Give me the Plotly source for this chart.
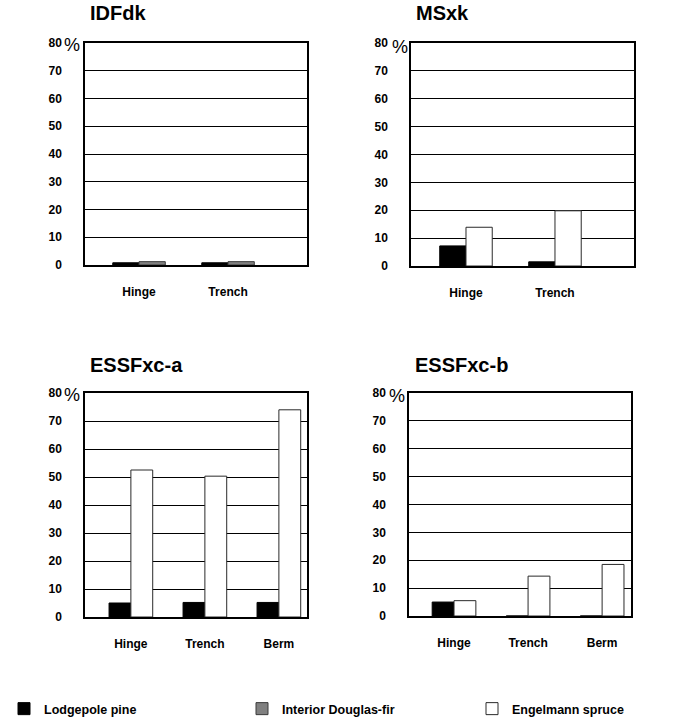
import plotly.graph_objects as go

# Proportion of stems (%) by microsite, per biogeoclimatic unit
sites_2 = ["Hinge", "Trench"]
sites_3 = ["Hinge", "Trench", "Berm"]

idfdk_lodgepole = [0.8, 0.8]
idfdk_douglas = [1.2, 1.2]

msxk_lodgepole = [7.2, 1.5]
msxk_spruce = [13.9, 19.8]

essfa_lodgepole = [5.0, 5.2, 5.2]
essfa_spruce = [52.5, 50.3, 74.0]

essfb_lodgepole = [5.0, 0.0, 0.0]
essfb_spruce = [5.5, 14.3, 18.5]

y_ticks = [0, 10, 20, 30, 40, 50, 60, 70, 80]
panel_titles = ["IDFdk", "MSxk", "ESSFxc-a", "ESSFxc-b"]

W, H = 678, 719
FONT = "Liberation Sans, Arial, sans-serif"

BLACK = dict(color="#000000", line=dict(color="#000000", width=1))
GRAY = dict(color="#808080", line=dict(color="#3a3a3a", width=1))
WHITE = dict(color="#ffffff", line=dict(color="#2a2a2a", width=1))


def px_x(v):
    return v / W


def px_y(v):
    return 1 - v / H


fig = go.Figure()

# (x-axis, y-axis, left px, right px, top px, bottom px, categories, x range)
panels = [
    ("x", "y", 85, 307, 43, 265, sites_2, [-0.607, 1.887]),
    ("x2", "y2", 411, 634, 43, 266, sites_2, [-0.618, 1.888]),
    ("x3", "y3", 85, 307, 393, 617, sites_3, [-0.62, 2.38]),
    ("x4", "y4", 409, 631, 393, 616, sites_3, [-0.608, 2.39]),
]

series = [
    [("Lodgepole pine", idfdk_lodgepole, BLACK, False, None),
     ("Interior Douglas-fir", idfdk_douglas, GRAY, True, "legend2")],
    [("Lodgepole pine", msxk_lodgepole, BLACK, False, None),
     ("Engelmann spruce", msxk_spruce, WHITE, True, "legend3")],
    [("Lodgepole pine", essfa_lodgepole, BLACK, True, "legend"),
     ("Engelmann spruce", essfa_spruce, WHITE, False, None)],
    [("Lodgepole pine", essfb_lodgepole, BLACK, False, None),
     ("Engelmann spruce", essfb_spruce, WHITE, False, None)],
]

for (xa, ya, l, r, t, b, cats, xr), traces in zip(panels, series):
    for name, vals, marker, show, leg in traces:
        kw = dict(legend=leg) if leg else {}
        fig.add_trace(go.Bar(
            x=cats, y=vals, name=name, marker=marker,
            xaxis=xa, yaxis=ya, showlegend=show, **kw,
        ))

layout = dict(
    width=W, height=H,
    margin=dict(l=0, r=0, t=0, b=0, autoexpand=False),
    paper_bgcolor="white", plot_bgcolor="white",
    barmode="group", bargap=0.41, bargroupgap=0,
    font=dict(family=FONT, color="#000000"),
)

for i, (xa, ya, l, r, t, b, cats, xr) in enumerate(panels):
    sx = "xaxis" if xa == "x" else "xaxis" + xa[1:]
    sy = "yaxis" if ya == "y" else "yaxis" + ya[1:]
    layout[sx] = dict(
        domain=[px_x(l), px_x(r)], anchor=ya, type="category",
        range=xr, showgrid=False, zeroline=False,
        showline=True, linecolor="#000000", linewidth=1.5, mirror=True,
        ticks="", ticklabelstandoff=15,
        tickfont=dict(family=FONT, size=12, color="#000000", weight="bold"),
    )
    layout[sy] = dict(
        domain=[px_y(b), px_y(t)], anchor=xa,
        range=[0, 80], tickvals=y_ticks, ticktext=[str(v) for v in y_ticks],
        showgrid=True, gridcolor="#000000", gridwidth=1, zeroline=False,
        showline=True, linecolor="#000000", linewidth=1.5, mirror=True,
        ticks="", ticklabelstandoff=19,
        tickfont=dict(family=FONT, size=12, color="#000000", weight="bold"),
    )

annotations = []
title_pos = [(88, 13), (414, 13), (88, 365.5), (413, 365.5)]
for title, (tx, ty) in zip(panel_titles, title_pos):
    annotations.append(dict(
        text=title, xref="paper", yref="paper", x=px_x(tx), y=px_y(ty),
        xanchor="left", yanchor="middle", showarrow=False,
        font=dict(family=FONT, size=20, color="#000000", weight="bold"),
    ))

pct_pos = [(72, 45), (399.5, 46.5), (72, 395), (396.5, 396)]
for (cx, cy) in pct_pos:
    annotations.append(dict(
        text="%", xref="paper", yref="paper", x=px_x(cx), y=px_y(cy),
        xanchor="center", yanchor="middle", showarrow=False,
        font=dict(family=FONT, size=18, color="#000000"),
    ))
layout["annotations"] = annotations

leg_common = dict(
    orientation="h", xanchor="left", yanchor="top", y=px_y(694),
    bgcolor="rgba(0,0,0,0)", borderwidth=0,
    font=dict(family=FONT, size=12.5, color="#000000", weight="bold"),
)
layout["legend"] = dict(x=px_x(4), **leg_common)
layout["legend2"] = dict(x=px_x(242), **leg_common)
layout["legend3"] = dict(x=px_x(472), **leg_common)

fig.update_layout(**layout)
fig.write_html("out.html")
